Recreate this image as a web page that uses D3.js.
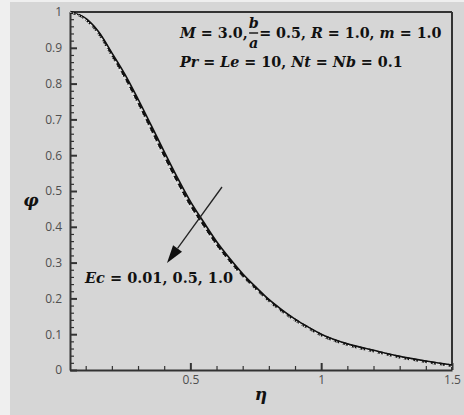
<!DOCTYPE html>
<html>
<head>
<meta charset="utf-8">
<script src="https://cdn.jsdelivr.net/npm/d3@7"></script>
<style>
body{margin:0;background:#efefef;}
.tick text{font-family:"Open Sans",sans-serif;font-size:12px;fill:#4f4f4f;}
.math{font-family:"DejaVu Serif",serif;font-weight:bold;fill:#111;}
</style>
</head>
<body>
<div id="chart"></div>
<script>
// eta values and phi profiles
var eta = [0.04,0.1,0.15,0.2,0.25,0.3,0.35,0.4,0.45,0.5,0.55,0.6,0.65,0.7,0.75,0.8,0.85,0.9,0.95,1.0,1.1,1.2,1.3,1.4,1.5]
var phiEc001 = [1.0,0.982,0.944,0.886,0.826,0.757,0.684,0.610,0.538,0.471,0.414,0.359,0.312,0.269,0.232,0.197,0.168,0.142,0.120,0.100,0.073,0.055,0.038,0.025,0.014]
var phiEc05 = [1.0,0.980,0.940,0.880,0.818,0.748,0.674,0.600,0.528,0.462,0.406,0.352,0.306,0.264,0.228,0.194,0.165,0.140,0.118,0.098,0.071,0.053,0.036,0.023,0.012]
var phiEc10 = [1.0,0.978,0.936,0.874,0.810,0.739,0.664,0.590,0.518,0.453,0.398,0.345,0.300,0.259,0.224,0.191,0.162,0.138,0.116,0.096,0.069,0.051,0.034,0.021,0.010]

var xMajor = [0.5,1,1.5]
var xMinor = [0.1,0.2,0.3,0.4,0.6,0.7,0.8,0.9,1.1,1.2,1.3,1.4]
var yMajor = [0,0.1,0.2,0.3,0.4,0.5,0.6,0.7,0.8,0.9,1]

var width = 464, height = 415
var svg = d3.select("#chart").append("svg").attr("width",width).attr("height",height)
svg.append("rect").attr("x",10).attr("y",2).attr("width",width-10).attr("height",height-2).attr("fill","#d6d6d6")

var x = d3.scaleLinear().domain([0.04,1.5]).range([70,452])
var y = d3.scaleLinear().domain([0,1]).range([370,12])

var axisColor = "#333"
function fmt(d){
    if(d==0) return "0"
    if(d==1) return "1"
    return d3.format(".1f")(d)
}

// minor ticks first
var yMinor = d3.range(0,1.001,0.02).filter(function(d){ return Math.abs(d*10-Math.round(d*10))>0.01 })
svg.append("g").attr("transform","translate(70,0)")
    .call(d3.axisLeft(y).tickValues(yMinor).tickSize(-4).tickSizeOuter(0).tickFormat(""))
    .call(function(g){ g.select(".domain").remove() })
svg.append("g").attr("transform","translate(0,370)")
    .call(d3.axisBottom(x).tickValues(xMinor).tickSize(-4).tickSizeOuter(0).tickFormat(""))
    .call(function(g){ g.select(".domain").remove() })
svg.selectAll(".tick line").attr("stroke",axisColor).attr("stroke-width",1.2)

var yAxis = svg.append("g").attr("transform","translate(70,0)")
    .call(d3.axisLeft(y).tickValues(yMajor).tickSize(-7).tickSizeOuter(0).tickPadding(8).tickFormat(fmt))
var xAxis = svg.append("g").attr("transform","translate(0,370)")
    .call(d3.axisBottom(x).tickValues(xMajor).tickSize(-7).tickSizeOuter(0).tickPadding(5).tickFormat(fmt))

yAxis.selectAll(".tick line").attr("stroke",axisColor).attr("stroke-width",2)
xAxis.selectAll(".tick line").attr("stroke",axisColor).attr("stroke-width",2)
svg.selectAll(".domain").attr("stroke",axisColor).attr("stroke-width",2)

// top and right frame
svg.append("line").attr("x1",x(0.04)).attr("x2",x(1.5)).attr("y1",y(1)).attr("y2",y(1))
    .attr("stroke",axisColor).attr("stroke-width",2)
svg.append("line").attr("x1",x(1.5)).attr("x2",x(1.5)).attr("y1",y(1)).attr("y2",y(0))
    .attr("stroke",axisColor).attr("stroke-width",2)

var line = d3.line().curve(d3.curveMonotoneX)
    .x(function(d,i){ return x(eta[i]) })
    .y(function(d){ return y(d) })

svg.append("path").datum(phiEc001).attr("d",line).attr("fill","none")
    .attr("stroke","#111").attr("stroke-width",1.6)
svg.append("path").datum(phiEc05).attr("d",line).attr("fill","none")
    .attr("stroke","#111").attr("stroke-width",2.6).attr("stroke-dasharray","6,3")
svg.append("path").datum(phiEc10).attr("d",line).attr("fill","none")
    .attr("stroke","#f4f4f4").attr("stroke-width",1).attr("stroke-dasharray","1.5,1.5")

// axis titles
svg.append("text").attr("class","math").attr("x",31).attr("y",206).attr("font-size",17)
    .attr("text-anchor","middle").attr("font-style","italic").text("φ")
svg.append("text").attr("class","math").attr("x",261).attr("y",400).attr("font-size",17)
    .attr("text-anchor","middle").attr("font-style","italic").text("η")

// writes a run of [text, italic] pieces, returns end x
function writeRun(parts,x0,y0,size){
    var t = svg.append("text").attr("class","math").attr("x",x0).attr("y",y0).attr("font-size",size)
    parts.forEach(function(p){
        t.append("tspan").attr("font-style",p[1]?"italic":"normal").text(p[0])
    })
    return x0 + t.node().getComputedTextLength()
}

var fs = 14.3
var xe = writeRun([["M",1],[" = 3.0,",0]],180,38,fs)
var fx = xe + 6
var bw = 9
svg.append("text").attr("class","math").attr("x",fx).attr("y",28).attr("font-size",fs)
    .attr("font-style","italic").attr("text-anchor","middle").text("b")
svg.append("line").attr("x1",fx-bw/2).attr("x2",fx+bw/2).attr("y1",33).attr("y2",33)
    .attr("stroke","#111").attr("stroke-width",1.4)
svg.append("text").attr("class","math").attr("x",fx).attr("y",48).attr("font-size",fs)
    .attr("font-style","italic").attr("text-anchor","middle").text("a")
writeRun([[" = 0.5, ",0],["R",1],[" = 1.0, ",0],["m",1],[" = 1.0",0]],fx+bw/2+1,38,fs)

writeRun([["Pr",1],[" = ",0],["Le",1],[" = 10, ",0],["Nt",1],[" = ",0],["Nb",1],[" = 0.1",0]],180,67,fs)

writeRun([["Ec",1],[" = 0.01, 0.5, 1.0",0]],85,283,14.5)

// arrow
var ax1 = 222, ay1 = 187, ax2 = 167, ay2 = 263
var ang = Math.atan2(ay2-ay1, ax2-ax1)
var hl = 18, hw = 5.5
var bx = ax2 - hl*Math.cos(ang), by = ay2 - hl*Math.sin(ang)
svg.append("line").attr("x1",ax1).attr("y1",ay1).attr("x2",bx).attr("y2",by)
    .attr("stroke","#222").attr("stroke-width",1.3)
svg.append("path")
    .attr("d","M"+ax2+","+ay2+"L"+(bx+hw*Math.sin(ang))+","+(by-hw*Math.cos(ang))
        +"L"+(bx-hw*Math.sin(ang))+","+(by+hw*Math.cos(ang))+"Z")
    .attr("fill","#111")
</script>
</body>
</html>
